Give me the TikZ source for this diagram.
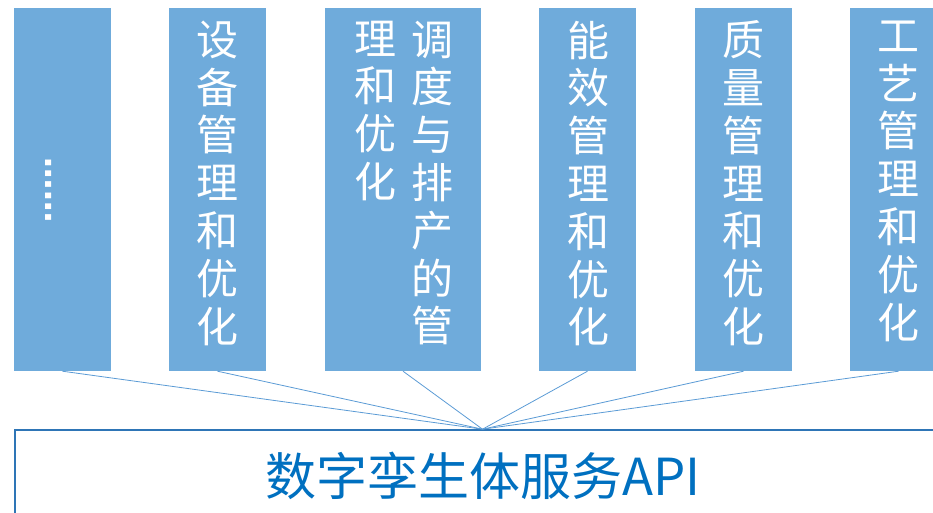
\documentclass[tikz,border=0pt]{standalone}
\usepackage{fontspec}
\newfontfamily\cjk{Noto Sans CJK SC}
\newfontfamily\dv{DejaVu Sans Bold}
\definecolor{boxfill}{RGB}{111,171,219}
\definecolor{linkc}{RGB}{91,155,213}
\definecolor{apiborder}{RGB}{46,117,182}
\definecolor{apitext}{RGB}{0,112,192}
\begin{document}
\begin{tikzpicture}[x=1pt,y=-1pt,
  colbox/.style={fill=boxfill,draw=none,minimum height=363pt,inner sep=0pt},
  coltext/.style={text=white,font=\cjk\fontsize{42}{47.8}\selectfont,align=center,inner sep=0pt,anchor=north},
  link/.style={draw=linkc,line width=0.8pt},
  apibox/.style={draw=apiborder,line width=1.6pt,fill=white,minimum width=935pt,minimum height=110pt,inner sep=0pt}]
\useasboundingbox (0,0) rectangle (933,512);
\clip (0,0) rectangle (933,512);
\node[colbox,minimum width=97pt] (b1) at (62.5,189.5) {};
\node[colbox,minimum width=97pt] (b2) at (217.5,189.5) {};
\node[colbox,minimum width=156pt] (b3) at (403,189.5) {};
\node[colbox,minimum width=97pt] (b4) at (587.5,189.5) {};
\node[colbox,minimum width=97pt] (b5) at (743.5,189.5) {};
\node[colbox,minimum width=97pt] (b6) at (898.5,189.5) {};
\node[text=white,font=\dv\fontsize{32.4}{36}\selectfont,inner sep=0pt,rotate=-90] (t1) at (49,190) {……};
\node[coltext] (t2) at (217,20.5) {设\\备\\管\\理\\和\\优\\化};
\node[coltext] (t3a) at (432,20.5) {调\\度\\与\\排\\产\\的\\管};
\node[coltext] (t3b) at (375,20.5) {理\\和\\优\\化};
\node[coltext] (t4) at (588,20.5) {能\\效\\管\\理\\和\\优\\化};
\node[coltext] (t5) at (743,20.5) {质\\量\\管\\理\\和\\优\\化};
\node[coltext] (t6) at (898,20.5) {工\\艺\\管\\理\\和\\优\\化};
\node[apibox] (api) at (482.5,485) {};
\node[text=apitext,font=\cjk\fontsize{51}{56}\selectfont,inner sep=0pt] (apit) at (483,476) {数字孪生体服务API};
\foreach \b in {b1,b2,b3,b4,b5,b6}
  \draw[link] (\b.south) -- (api.north);
\end{tikzpicture}
\end{document}
